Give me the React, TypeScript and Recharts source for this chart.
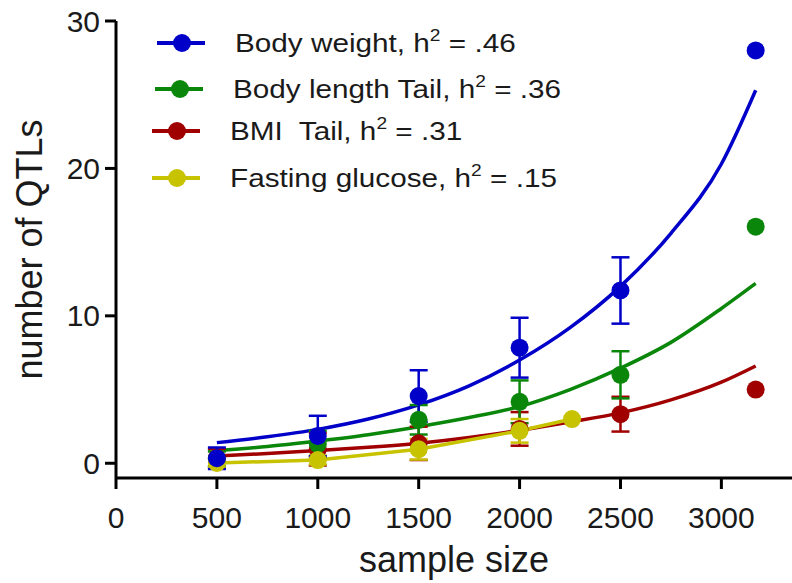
import React from "react";
import { ComposedChart, Line, Scatter, XAxis, YAxis, ErrorBar, Legend, Label } from "recharts";

const SAMPLE_SIZES = [500, 1000, 1500, 2000, 2500];
const GLUCOSE_SIZES = [500, 1000, 1500, 2000, 2260];
const FIT_SIZES = [500, 750, 1000, 1250, 1500, 1750, 2000, 2250, 2500, 2750, 3000, 3170];
const PREDICTED_SIZE = 3170;

const X_TICKS = [0, 500, 1000, 1500, 2000, 2500, 3000];
const Y_TICKS = [0, 10, 20, 30];

const SERIES_NAMES = ["Body weight", "Body length Tail", "BMI  Tail", "Fasting glucose"];
const SERIES_H2 = [".46", ".36", ".31", ".15"];
const COLORS = ["#0000c8", "#0a870a", "#a00000", "#c8c300"];

// observed QTL counts (mean) and spread per sample size
const weightQtl = [0.34, 1.85, 4.56, 7.84, 11.72];
const weightSd = [0.73, 1.37, 1.75, 2.03, 2.25];
const lengthQtl = [0.3, 1.3, 2.95, 4.17, 6.0];
const lengthSd = [0.5, 0.9, 1.0, 1.45, 1.6];
const bmiQtl = [0.35, 0.95, 1.35, 2.33, 3.33];
const bmiSd = [0.6, 1.1, 1.13, 1.14, 1.18];
const glucoseQtl = [0.02, 0.22, 0.95, 2.2, 3.0];
const glucoseSd = [0.3, 0.3, 0.7, 0.8, 0];

// full-sample counts (weight, length, bmi)
const fullSampleQtl = [28.0, 16.05, 5.0];

// fitted curves
const weightFit = [1.4, 1.8, 2.3, 3.0, 3.96, 5.25, 7.0, 9.2, 12.0, 15.6, 20.3, 25.3];
const lengthFit = [0.86, 1.13, 1.51, 1.94, 2.48, 3.1, 3.85, 5.0, 6.45, 8.2, 10.5, 12.2];
const bmiFit = [0.5, 0.66, 0.86, 1.08, 1.36, 1.75, 2.24, 2.8, 3.42, 4.3, 5.5, 6.6];

const FONT = "'Liberation Sans', Arial, sans-serif";
// legend layout (rows drift slightly left in the original)
const LEGEND_ROW_Y = [43, 89, 131, 178];
const LEGEND_ROW_X = [235, 233, 230, 230];

const points = (xs: number[], ys: number[], sd: number[]) =>
  xs.map((x, i) => ({ x, y: ys[i], err: sd[i] }));
const curve = (ys: number[]) => FIT_SIZES.map((x, i) => ({ x, y: ys[i] }));

const observed = [
  points(SAMPLE_SIZES, weightQtl, weightSd),
  points(SAMPLE_SIZES, lengthQtl, lengthSd),
  points(SAMPLE_SIZES, bmiQtl, bmiSd),
  points(GLUCOSE_SIZES, glucoseQtl, glucoseSd),
];
const fits = [curve(weightFit), curve(lengthFit), curve(bmiFit)];
const fullSample = fullSampleQtl.map((y) => [{ x: PREDICTED_SIZE, y }]);

const dot = (color: string) => (p: any) => <circle cx={p.cx} cy={p.cy} r={9} fill={color} />;

function ChartLegend() {
  return (
    <svg width={620} height={200} style={{ display: "block" }}>
      {SERIES_NAMES.map((name, i) => {
        const cy = LEGEND_ROW_Y[i];
        const tx = LEGEND_ROW_X[i];
        return (
          <g key={name}>
            <line x1={tx - 78} x2={tx - 30} y1={cy} y2={cy} stroke={COLORS[i]} strokeWidth={4} />
            <circle cx={tx - 53} cy={cy} r={9} fill={COLORS[i]} />
            <g transform={`translate(${tx}, ${cy + 9}) scale(1.13, 1)`}>
              <text x={0} y={0} fontSize={26.3} fill="#1a1a1a" fontFamily={FONT} style={{ whiteSpace: "pre" }}>
                {name}, h
                <tspan dy={-11} fontSize={17}>2</tspan>
                <tspan dy={11}>{" = " + SERIES_H2[i]}</tspan>
              </text>
            </g>
          </g>
        );
      })}
    </svg>
  );
}

function YTitle({ viewBox }: any) {
  const cx = 42;
  const cy = viewBox.y + viewBox.height / 2;
  return (
    <text x={cx} y={cy} transform={`rotate(-90, ${cx}, ${cy})`} textAnchor="middle" fontSize={36} fill="#1a1a1a" fontFamily={FONT}>
      number of QTLs
    </text>
  );
}

function XTitle({ viewBox }: any) {
  const cx = viewBox.x + viewBox.width / 2;
  return (
    <text x={cx} y={572} textAnchor="middle" fontSize={36} fill="#1a1a1a" fontFamily={FONT}>
      sample size
    </text>
  );
}

export default function App() {
  const tick = { fill: "#1a1a1a", fontSize: 30, fontFamily: FONT };
  const axisStroke = { stroke: "#000", strokeWidth: 3 };
  return (
    <div style={{ position: "absolute", left: 0, top: 0 }}>
      <ComposedChart width={792} height={583} margin={{ top: 21, right: 0, bottom: 0, left: 0 }}>
        <XAxis
          type="number"
          dataKey="x"
          domain={[0, 3350]}
          ticks={X_TICKS}
          height={105}
          tickSize={11}
          tickMargin={18}
          axisLine={axisStroke}
          tickLine={axisStroke}
          tick={tick}
        >
          <Label content={<XTitle />} />
        </XAxis>
        <YAxis
          type="number"
          dataKey="y"
          domain={[-1, 30]}
          ticks={Y_TICKS}
          width={116}
          tickSize={11}
          tickMargin={5}
          axisLine={axisStroke}
          tickLine={axisStroke}
          tick={tick}
        >
          <Label content={<YTitle />} />
        </YAxis>
        <Legend layout="vertical" align="center" verticalAlign="middle" wrapperStyle={{ top: 0, left: 0, width: 620 }} content={<ChartLegend />} />
        {fits.map((d, i) => (
          <Line key={`fit${i}`} data={d} dataKey="y" type="monotone" stroke={COLORS[i]} strokeWidth={3.5} dot={false} isAnimationActive={false} />
        ))}
        <Line data={observed[3]} dataKey="y" type="linear" stroke={COLORS[3]} strokeWidth={3.5} dot={false} isAnimationActive={false} />
        {[2, 1, 3, 0].map((i) => (
          <Scatter key={`obs${i}`} data={observed[i]} dataKey="y" fill={COLORS[i]} shape={dot(COLORS[i])} isAnimationActive={false}>
            <ErrorBar dataKey="err" direction="y" width={9} stroke={COLORS[i]} strokeWidth={2.5} />
          </Scatter>
        ))}
        {fullSample.map((d, i) => (
          <Scatter key={`full${i}`} data={d} dataKey="y" fill={COLORS[i]} shape={dot(COLORS[i])} isAnimationActive={false} />
        ))}
      </ComposedChart>
    </div>
  );
}
